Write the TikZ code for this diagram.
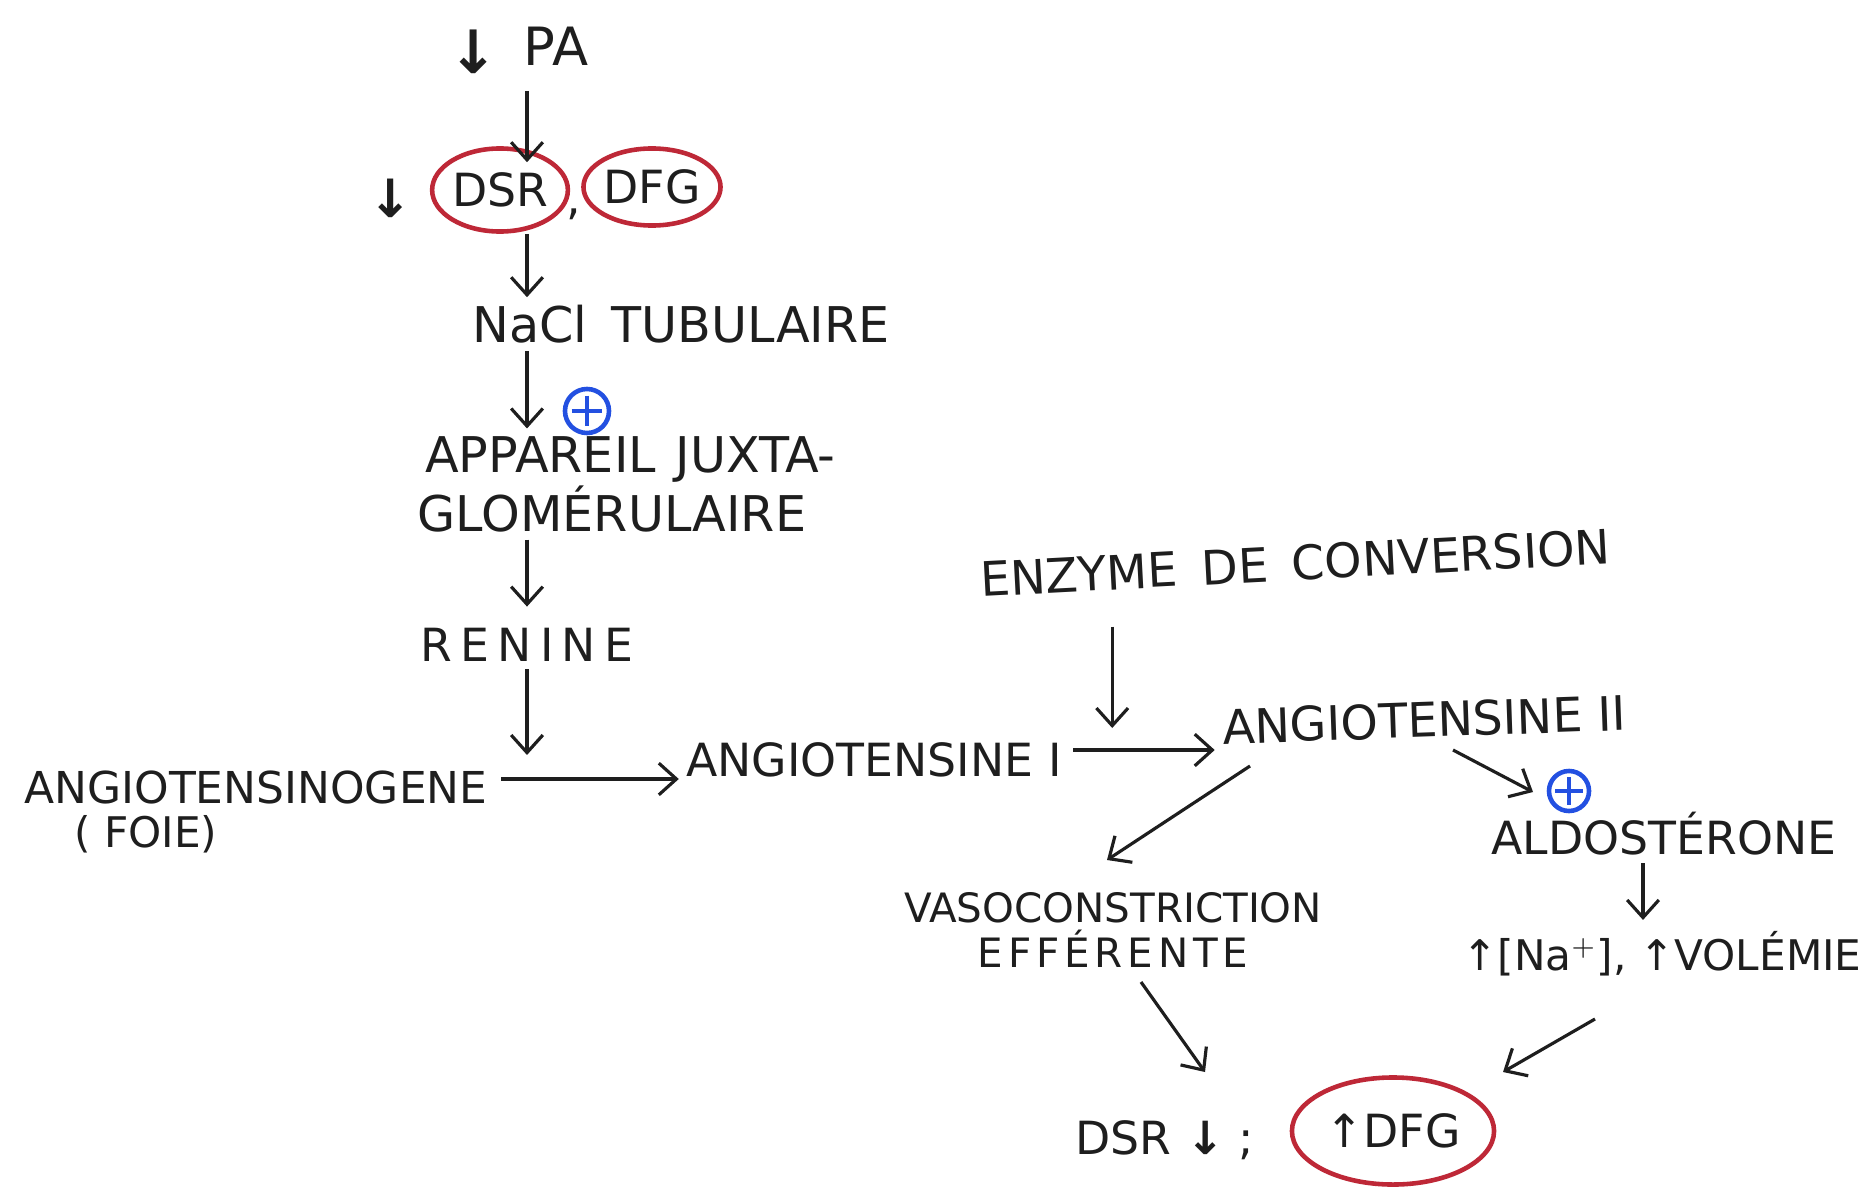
\documentclass[tikz,border=0pt]{standalone}
\usepackage{fontspec}
\setmainfont{DejaVu Sans}
\usetikzlibrary{arrows.meta,shapes.geometric,calc}
\definecolor{ink}{RGB}{30,30,30}
\definecolor{circred}{RGB}{190,40,55}
\definecolor{plusblue}{RGB}{35,80,225}
\tikzset{
  txt/.style={inner sep=2pt, text=ink, font=\fontsize{13}{15}\selectfont},
  redring/.style={ellipse, draw=circred, line width=1.3pt, inner sep=0pt, text=ink, font=\fontsize{13}{15}\selectfont},
  plussign/.style={circle, draw=plusblue, line width=1.3pt, inner sep=0pt, minimum size=#1,
    path picture={\draw[plusblue, line width=1.3pt]
      ($(path picture bounding box.north)!0.15!(path picture bounding box.south)$) --
      ($(path picture bounding box.north)!0.85!(path picture bounding box.south)$)
      ($(path picture bounding box.west)!0.15!(path picture bounding box.east)$) --
      ($(path picture bounding box.west)!0.85!(path picture bounding box.east)$);}},
  conn/.style={draw=ink, line width=0.9pt, -{Straight Barb[length=5pt,width=9pt]}},
}
\begin{document}
\begin{tikzpicture}[x=0.01cm,y=-0.01cm]
\useasboundingbox[fill=white] (0,0) rectangle (1867,1188);
\coordinate (axis) at (527,0);

% top chain
\node[txt, font=\fontsize{15}{18}\selectfont] (pa) at (556,46) {PA};
\node[txt, font=\fontsize{17}{18}\bfseries] (paarrow) at (474,52) {↓};
\node[txt, font=\fontsize{15}{18}\bfseries] (dsrarrow) at (391,198) {↓};
\node[redring, minimum width=1.19cm, minimum height=0.83cm] (dsr) at (500,190) {DSR};
\node[txt] (comma) at (574,214) {,};
\node[redring, minimum width=1.37cm, minimum height=0.77cm] (dfg) at (652,187) {DFG};

\node[txt, font=\fontsize{14}{16}\selectfont] (nacl) at (681,324) {NaCl\hspace{0.5em}TUBULAIRE};
\node[plussign=0.44cm] (plus1) at (587,411) {};
\node[txt, align=left, anchor=west, font=\fontsize{14}{14.8}\selectfont] (aj) at (410,484) {\hspace*{0.15em}APPAREIL\hspace{0.4em}JUXTA-\\GLOMÉRULAIRE};
\node[txt, font=\fontsize{13}{15}\selectfont\addfontfeatures{LetterSpace=18}] (renine) at (527,645) {RENINE};

\draw[conn, shorten <=0.18cm, shorten >=-0.16cm] (pa.south -| axis) -- (axis |- dsr.north);
\draw[conn] (dsr.south -| axis) -- (axis |- nacl.north);
\draw[conn] (nacl.south -| axis) -- (axis |- aj.north);
\draw[conn, shorten >=0.14cm] (aj.south -| axis) -- (axis |- renine.north);

% main horizontal chain
\node[txt, font=\fontsize{12.5}{15}\selectfont] (angiogen) at (256,787) {ANGIOTENSINOGENE};
\node[txt, font=\fontsize{12}{15}\selectfont] (foie) at (146,834) {( FOIE)};
\node[txt] (ang1) at (874,760) {ANGIOTENSINE I};
\node[txt, font=\fontsize{13.5}{15}\selectfont, rotate=3] (enzyme) at (1295,563) {ENZYME\hspace{0.5em}DE\hspace{0.5em}CONVERSION};
\node[txt, font=\fontsize{13.5}{15}\selectfont, rotate=2] (ang2) at (1424,720) {ANGIOTENSINE II};

\coordinate (h1) at ($(angiogen.east)+(6,-8)$);
\draw[conn] (h1) -- (h1 -| ang1.west);
\draw[conn, shorten >=0.24cm] (renine.south) -- (renine.south |- h1);

\coordinate (h2) at ($(ang1.east)+(4,-10)$);
\draw[conn] (h2) -- (h2 -| ang2.west);
\coordinate (etip) at ($(h2)+(39,-22)$);
\draw[conn, shorten <=0.38cm] (enzyme.south -| etip) -- (etip);

% right branch
\node[plussign=0.40cm] (plus2) at (1569,791) {};
\node[txt] (aldo) at (1664,834) {ALDOSTÉRONE};
\node[txt, font=\fontsize{12}{15}\selectfont] (na) at (1662,954) {↑[Na$^{+}$],\hspace{0.3em}↑VOLÉMIE};

\node[txt, align=center, font=\fontsize{11.5}{13}\selectfont] (vaso) at (1113,930) {VASOCONSTRICTION\\{\addfontfeatures{LetterSpace=12}EFFÉRENTE}};

\node[txt] (result) at (1165,1140) {DSR {\bfseries ↓} ;};
\node[redring, minimum width=2.02cm, minimum height=1.07cm] (dfg2) at (1393,1131) {↑DFG};

\draw[conn] ($(ang2.center)+(-174,46)$) -- ($(vaso.center)+(-6,-70)$);
\draw[conn] ($(ang2.center)+(29,30)$) -- ($(plus2.center)+(-36,1)$);
\draw[conn] ($(aldo.south)+(-21,0)$) -- ($(na.north)+(-19,-4)$);
\draw[conn] ($(vaso.center)+(28,52)$) -- ($(result.center)+(40,-68)$);
\draw[conn] ($(na.center)+(-67,65)$) -- ($(dfg2.center)+(110,-59)$);
\end{tikzpicture}
\end{document}
